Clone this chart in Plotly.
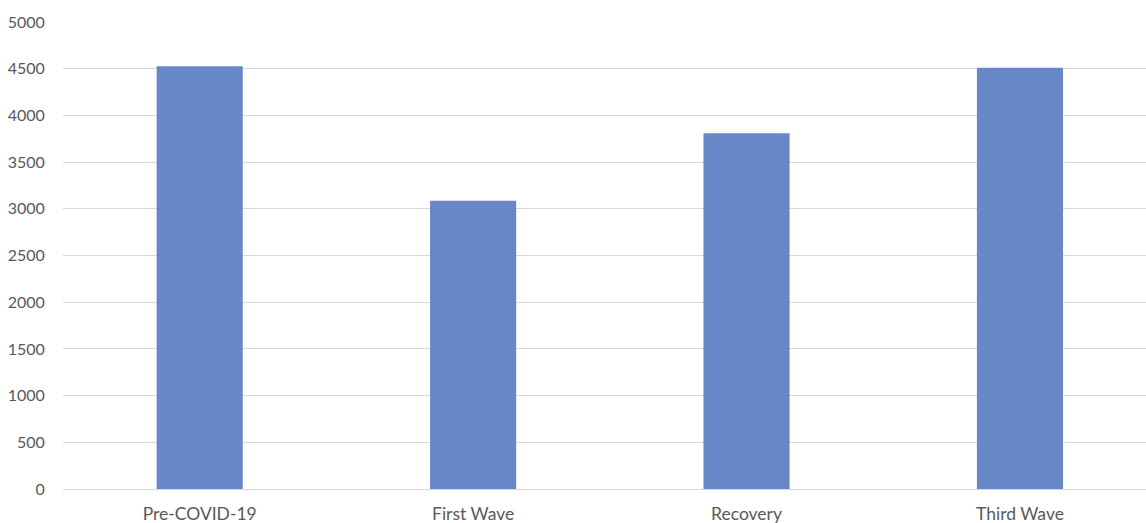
import plotly.graph_objects as go

periods = ["Pre-COVID-19", "First Wave", "Recovery", "Third Wave"]
values = [4525, 3085, 3810, 4510]
y_ticks = [0, 500, 1000, 1500, 2000, 2500, 3000, 3500, 4000, 4500, 5000]

BAR_COLOR = "#6787C7"
GRID_COLOR = "#D9D9D9"
TEXT_COLOR = "#595959"
FONT = "Lato, 'Open Sans', sans-serif"

fig = go.Figure(
    go.Bar(
        x=periods,
        y=values,
        marker=dict(color=BAR_COLOR, line=dict(width=0)),
        width=0.315,
    )
)

fig.update_layout(
    width=1146,
    height=523,
    margin=dict(l=63, r=0, t=22, b=34),
    paper_bgcolor="white",
    plot_bgcolor="white",
    showlegend=False,
    font=dict(family=FONT, size=16, color=TEXT_COLOR),
)

fig.update_xaxes(
    type="category",
    range=[-0.5, 3.461],
    showgrid=False,
    showline=True,
    linecolor=GRID_COLOR,
    linewidth=1,
    ticks="",
    ticklabelstandoff=9,
    tickfont=dict(size=17.5, color=TEXT_COLOR),
)

fig.update_yaxes(
    range=[0, 5000],
    tickvals=y_ticks,
    ticktext=[str(v) for v in y_ticks],
    showgrid=True,
    gridcolor=GRID_COLOR,
    gridwidth=1,
    zeroline=False,
    showline=False,
    ticks="outside",
    ticklen=14,
    tickcolor="rgba(0,0,0,0)",
    tickfont=dict(size=16, color=TEXT_COLOR),
)

fig.write_html("out.html")
